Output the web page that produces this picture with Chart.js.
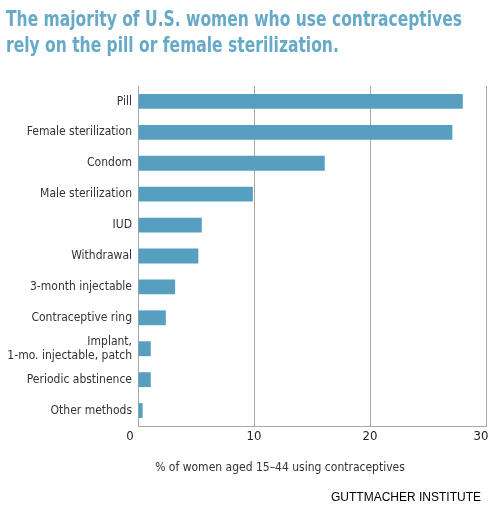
<!DOCTYPE html>
<html>
<head>
<meta charset="utf-8">
<script src="https://cdn.jsdelivr.net/npm/chart.js@4"></script>
<style>
  html, body { margin: 0; padding: 0; background: #fff; }
  #wrap { width: 490px; height: 520px; }
</style>
</head>
<body>
<div id="wrap"><canvas id="myChart" width="490" height="520"></canvas></div>
<script>
// categories
const methods = [
  "Pill",
  "Female sterilization",
  "Condom",
  "Male sterilization",
  "IUD",
  "Withdrawal",
  "3-month injectable",
  "Contraceptive ring",
  ["Implant,", "1-mo. injectable, patch"],
  "Periodic abstinence",
  "Other methods",
];
// % of women aged 15-44 using contraceptives
const shares = [28.0, 27.1, 16.1, 9.9, 5.5, 5.2, 3.2, 2.4, 1.1, 1.1, 0.4];
// x ticks
const xTicks = [0, 10, 20, 30];
// headline
const titleLines = [
  "The majority of U.S. women who use contraceptives",
  "rely on the pill or female sterilization.",
];

const narrow = "'Liberation Sans Narrow', 'DejaVu Sans Condensed', sans-serif";

// extra texts: headline, x tick labels, axis caption, source
const captions = {
  id: "captions",
  afterDraw(chart) {
    const ctx = chart.ctx;
    const area = chart.chartArea;
    const x = chart.scales.x;
    ctx.save();

    // headline, squeezed horizontally like a condensed face
    ctx.font = "bold 22px " + narrow;
    ctx.fillStyle = "#66aac8";
    ctx.textAlign = "left";
    ctx.textBaseline = "alphabetic";
    const sx = 456 / ctx.measureText(titleLines[0]).width;
    ctx.save();
    ctx.scale(sx, 1);
    titleLines.forEach((t, i) => ctx.fillText(t, 6 / sx, 26 + i * 26));
    ctx.restore();

    // tick labels (first one nudged left, last one kept inside like the original)
    ctx.fillStyle = "#222";
    ctx.font = "13px " + narrow;
    ctx.textAlign = "center";
    ctx.textBaseline = "middle";
    xTicks.forEach((v, i) => {
      let px = x.getPixelForValue(v);
      if (i === 0) px -= 8;
      if (i === xTicks.length - 1) px -= 5;
      ctx.fillText(String(v), px, area.bottom + 11);
    });
    ctx.fillStyle = "#333";
    ctx.font = "12px " + narrow;
    ctx.fillText("% of women aged 15\u201344 using contraceptives", area.left + 142, 468);
    ctx.fillStyle = "#000";
    ctx.font = "12px 'Liberation Sans', Arial, sans-serif";
    ctx.textAlign = "right";
    ctx.fillText("GUTTMACHER INSTITUTE", 481, 498);
    ctx.restore();
  },
};

const data = {
  labels: methods,
  datasets: [
    {
      label: "Share",
      data: shares,
      backgroundColor: "#579fc1",
      borderWidth: 0,
      barPercentage: 0.48,
      categoryPercentage: 1,
    },
  ],
};

const config = {
  type: "bar",
  data: data,
  options: {
    indexAxis: "y",
    responsive: false,
    animation: false,
    layout: { padding: { left: 4, right: 4, top: 86, bottom: 0 } },
    plugins: {
      legend: { display: false },
      tooltip: { enabled: false },
      title: { display: false },
    },
    scales: {
      x: {
        min: 0,
        max: 30,
        afterBuildTicks(scale) {
          scale.ticks = xTicks.map((v) => ({ value: v }));
        },
        afterFit(scale) {
          scale.height = 94;
          scale.paddingLeft = 0;
          scale.paddingRight = 0;
        },
        grid: {
          display: true,
          drawTicks: false,
          color: "#a8a8a8",
          lineWidth: 1,
        },
        border: { display: true, color: "#a8a8a8" },
        ticks: { display: false },
      },
      y: {
        afterFit(scale) {
          scale.width = 134;
          scale.paddingTop = 0;
          scale.paddingBottom = 0;
        },
        grid: { display: false, drawTicks: false },
        border: { display: true, color: "#a8a8a8" },
        ticks: {
          autoSkip: false,
          color: "#333",
          padding: 6,
          font: { family: narrow, size: 12, lineHeight: 1.15 },
        },
      },
    },
  },
  plugins: [captions],
};

const myChart = new Chart(document.getElementById("myChart"), config);
</script>
</body>
</html>
